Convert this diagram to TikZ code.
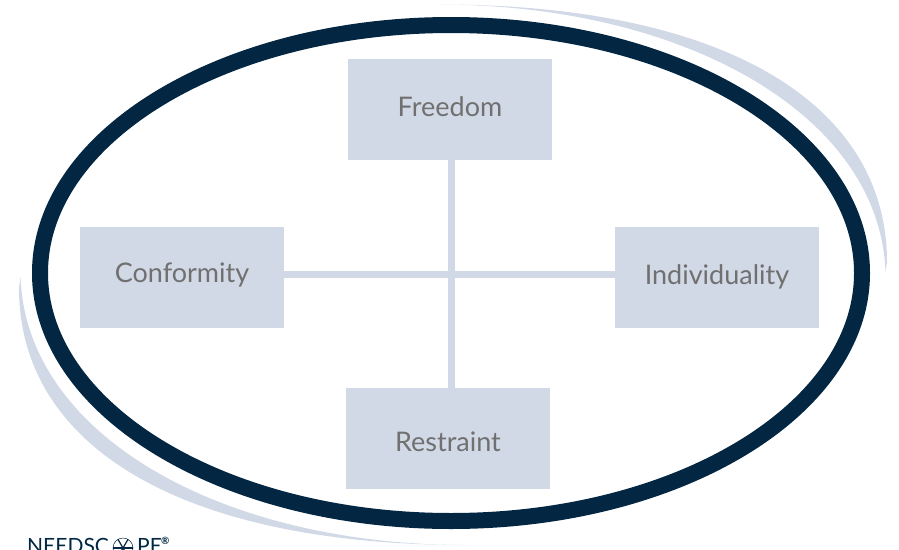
\documentclass[tikz,border=0pt]{standalone}
\usepackage{fontspec}
\setmainfont{Lato}
\definecolor{navy}{HTML}{032742}
\definecolor{pale}{HTML}{D2D9E6}
\definecolor{ink}{HTML}{707070}
\tikzset{
  box/.style={fill=pale,minimum width=204pt,minimum height=101pt,inner sep=0pt,outer sep=0pt,text=ink,font=\fontsize{27}{30}\selectfont},
  axis/.style={draw=pale,line width=7pt},
  logotext/.style={anchor=base west,inner sep=0pt,text=navy,font=\fontsize{21}{24}\selectfont},
}
\begin{document}
\begin{tikzpicture}[x=1pt,y=-1pt]
\useasboundingbox (0,0) rectangle (899,549);
\clip (0,0) rectangle (899,549);
% crescents
\fill[pale] (440,4.5) .. controls (727,4.5) and (887,105) .. (887,262)
  -- (885.5,272) .. controls (880,115) and (685,5) .. (440,4.5) -- cycle;
\fill[pale] (19,288) .. controls (19,445) and (179,545) .. (466,545)
  .. controls (221,545) and (26,435) .. (20.5,277) -- cycle;
% main ring
\draw[navy,line width=16pt] (451,273) ellipse [x radius=411,y radius=248];
% boxes
\node[box] (freedom) at (450,109.5) {\raisebox{-6.5pt}[0pt][0pt]{Freedom}};
\node[box] (conformity) at (182,277.5) {\raisebox{-4.5pt}[0pt][0pt]{Conformity}};
\node[box] (individuality) at (717,277.5) {\raisebox{-6.5pt}[0pt][0pt]{Individuality}};
\node[box] (restraint) at (448,438.5) {\raisebox{-12.5pt}[0pt][0pt]{Restraint}};
% axes
\draw[axis] ([xshift=1pt]freedom.south) -- ([xshift=3pt]restraint.north);
\draw[axis] ([yshift=3.5pt]conformity.east) -- ([yshift=3.5pt]individuality.west);
% logo
\node[logotext] (logoa) at (27,553) {NEEDSC};
\node[draw=navy,circle,line width=0.5pt,minimum size=20pt,inner sep=0pt] (logoo) at (123,548) {};
\foreach \a in {0,60,120}{\draw[navy,line width=1.2pt] (123,548)++(\a:10) -- ++(\a+180:20);}
\node[logotext] (logob) at (137,553) {PE};
\node[anchor=base west,inner sep=0pt,text=navy,font=\bfseries\fontsize{10}{11}\selectfont] (logor) at (161,544) {®};
\end{tikzpicture}
\end{document}
